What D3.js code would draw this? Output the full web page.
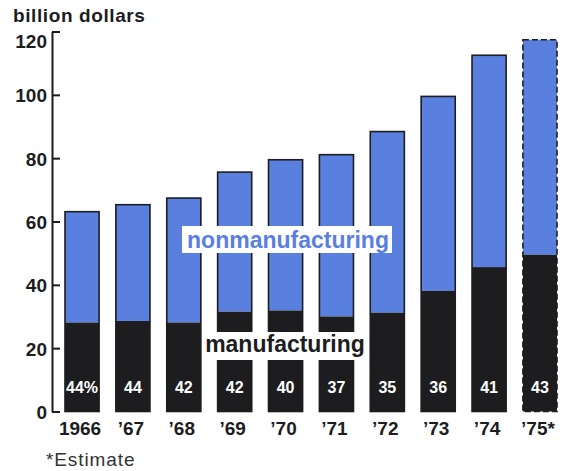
<!DOCTYPE html>
<html>
<head>
<meta charset="utf-8">
<script src="https://cdn.jsdelivr.net/npm/d3@7.9.0/dist/d3.min.js"></script>
<style>
  body { margin: 0; background: #fff; }
  text { font-family: "Liberation Sans", Arial, Helvetica, sans-serif; }
</style>
</head>
<body>
<div id="chart"></div>
<script>
// chart data
const years = ["1966", "’67", "’68", "’69", "’70", "’71", "’72", "’73", "’74", "’75*"];
const totals = [63.1, 65.3, 67.4, 75.6, 79.5, 81.1, 88.4, 99.5, 112.5, 117.4];
const manufacturing = [28.1, 28.6, 28.1, 31.5, 31.9, 30.0, 31.2, 38.1, 45.6, 49.5];
const shareLabels = ["44%", "44", "42", "42", "40", "37", "35", "36", "41", "43"];
const yTicks = [0, 20, 40, 60, 80, 100, 120];

const width = 565;
const height = 471;
const blue = "#5a80df";
const dark = "#1d1d1f";

const x = d3
  .scaleBand()
  .domain(years)
  .range([56.6, 565.4])
  .paddingInner(0.33)
  .paddingOuter(0.165);

const y = d3.scaleLinear().domain([0, 120]).range([411.5, 31.5]);

const svg = d3
  .select("#chart")
  .append("svg")
  .attr("width", width)
  .attr("height", height);

// title
svg
  .append("text")
  .attr("x", 13)
  .attr("y", 22)
  .attr("font-size", 19)
  .attr("font-weight", "bold")
  .attr("letter-spacing", 0.6)
  .attr("fill", dark)
  .text("billion dollars");

// bars
const bars = svg
  .append("g")
  .selectAll("g")
  .data(years)
  .join("g");

bars
  .append("rect")
  .attr("x", (d) => x(d))
  .attr("y", (d, i) => y(totals[i]))
  .attr("width", x.bandwidth())
  .attr("height", (d, i) => y(manufacturing[i]) - y(totals[i]))
  .attr("fill", blue);

bars
  .append("rect")
  .attr("x", (d) => x(d))
  .attr("y", (d, i) => y(manufacturing[i]))
  .attr("width", x.bandwidth())
  .attr("height", (d, i) => y(0) - y(manufacturing[i]))
  .attr("fill", dark);

bars
  .append("rect")
  .attr("x", (d) => x(d))
  .attr("y", (d, i) => y(totals[i]))
  .attr("width", x.bandwidth())
  .attr("height", (d, i) => y(0) - y(totals[i]))
  .attr("fill", "none")
  .attr("stroke", dark)
  .attr("stroke-width", 1.6)
  .attr("stroke-dasharray", (d, i) => (i === years.length - 1 ? "6,3" : null));

// share of manufacturing, inside bars
bars
  .append("text")
  .attr("x", (d) => x(d) + x.bandwidth() / 2)
  .attr("y", 393)
  .attr("text-anchor", "middle")
  .attr("font-size", 16)
  .attr("font-weight", "bold")
  .attr("fill", "#fff")
  .text((d, i) => shareLabels[i]);

// y axis, ticks pointing inward
const yAxis = svg
  .append("g")
  .attr("transform", `translate(52,0)`)
  .call(
    d3.axisLeft(y).tickValues(yTicks).tickSize(-8).tickSizeOuter(0).tickPadding(5)
  );
yAxis.select(".domain").attr("stroke", dark).attr("stroke-width", 2);
yAxis.selectAll(".tick line").attr("stroke", dark).attr("stroke-width", 2);
yAxis
  .selectAll(".tick text")
  .attr("font-size", 19)
  .attr("font-weight", "bold")
  .attr("fill", dark)
  .attr("font-family", "Liberation Sans, Arial, sans-serif")
  .attr("dy", (d) => (d === 120 ? "0.85em" : "0.36em"));

// x labels
svg
  .append("g")
  .selectAll("text")
  .data(years)
  .join("text")
  .attr("x", (d) => x(d) + x.bandwidth() / 2 - 2)
  .attr("y", 435)
  .attr("text-anchor", "middle")
  .attr("font-size", 19)
  .attr("font-weight", "bold")
  .attr("fill", dark)
  .text((d) => d);

// series labels on white boxes
svg.append("rect").attr("x", 182).attr("y", 226).attr("width", 210).attr("height", 27).attr("fill", "#fff");
svg
  .append("text")
  .attr("x", 288)
  .attr("y", 248)
  .attr("text-anchor", "middle")
  .attr("font-size", 23)
  .attr("font-weight", "bold")
  .attr("fill", blue)
  .text("nonmanufacturing");

svg.append("rect").attr("x", 203).attr("y", 332).attr("width", 164).attr("height", 28).attr("fill", "#fff");
svg
  .append("text")
  .attr("x", 285)
  .attr("y", 352)
  .attr("text-anchor", "middle")
  .attr("font-size", 23)
  .attr("font-weight", "bold")
  .attr("fill", dark)
  .text("manufacturing");

// footnote
svg
  .append("text")
  .attr("x", 46)
  .attr("y", 466)
  .attr("font-size", 19)
  .attr("letter-spacing", 0.9)
  .attr("fill", "#333")
  .text("*Estimate");
</script>
</body>
</html>
